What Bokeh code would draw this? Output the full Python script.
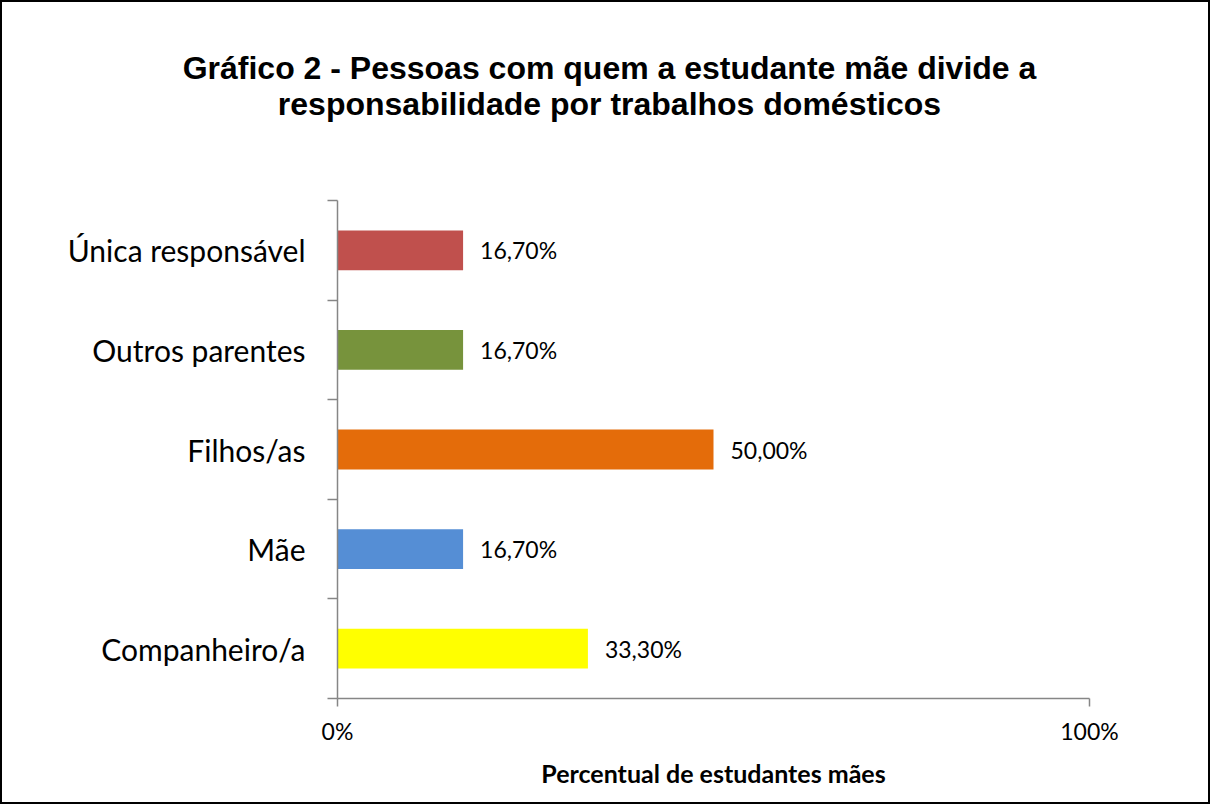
from bokeh.plotting import figure
from bokeh.models import Range1d, FixedTicker, Div
from bokeh.layouts import column
from bokeh.core.properties import value
from bokeh.embed import file_html
from bokeh.resources import INLINE

categories = ["Companheiro/a", "Mãe", "Filhos/as", "Outros parentes", "Única responsável"]
values = [33.3, 16.7, 50.0, 16.7, 16.7]
value_labels = ["33,30%", "16,70%", "50,00%", "16,70%", "16,70%"]
colors = ["#FFFF00", "#558ED5", "#E46C0A", "#77933C", "#C0504D"]
x_ticks = [0, 100]
x_tick_labels = ["0%", "100%"]
title_lines = ["Gráfico 2 - Pessoas com quem a estudante mãe divide a",
               "responsabilidade por trabalhos domésticos"]
x_title = "Percentual de estudantes mães"

FONT = "Lato"
AXIS_COLOR = "#868686"
TITLE_H = 130

ypos = [i + 0.5 for i in range(len(categories))]

p = figure(frame_width=752, frame_height=498,
           min_border_left=335, min_border_right=119,
           min_border_top=198 - TITLE_H, min_border_bottom=104,
           x_range=Range1d(0, 100), y_range=Range1d(0, len(categories)),
           output_backend="svg", toolbar_location=None, tools="")
p.outline_line_color = None
p.background_fill_color = "white"
p.border_fill_color = "white"

p.hbar(y=ypos, right=values, left=0, height=0.4, fill_color=colors, line_color=None)
p.text(x=values, y=ypos, text=value_labels, x_offset=17, text_baseline="middle",
       text_align="left", text_font=value(FONT), text_font_size="23px", text_color="black")

# y axis
ya = p.yaxis[0]
ya.ticker = FixedTicker(ticks=ypos, minor_ticks=list(range(len(categories) + 1)))
ya.major_label_overrides = {y: c for y, c in zip(ypos, categories)}
ya.major_tick_out = 0
ya.major_tick_in = 0
ya.minor_tick_out = 10
ya.minor_tick_in = 0
ya.minor_tick_line_color = AXIS_COLOR
ya.axis_line_color = AXIS_COLOR
ya.axis_line_width = 1.5
ya.minor_tick_line_width = 1.5
ya.major_label_standoff = 22
ya.major_label_text_font = FONT
ya.major_label_text_font_size = "30px"
ya.major_label_text_color = "black"

# x axis
xa = p.xaxis[0]
xa.ticker = FixedTicker(ticks=x_ticks, minor_ticks=[])
xa.major_label_overrides = {t: l for t, l in zip(x_ticks, x_tick_labels)}
xa.major_tick_out = 8
xa.major_tick_in = 0
xa.major_tick_line_color = AXIS_COLOR
xa.major_tick_line_width = 1.5
xa.axis_line_color = AXIS_COLOR
xa.axis_line_width = 1.5
xa.major_label_standoff = 10
xa.major_label_text_font = FONT
xa.major_label_text_font_size = "23px"
xa.major_label_text_color = "black"
xa.axis_label = x_title
xa.axis_label_text_font = FONT
xa.axis_label_text_font_style = "bold"
xa.axis_label_text_font_size = "25px"
xa.axis_label_text_color = "black"
xa.axis_label_standoff = 10

p.ygrid.visible = False
p.xgrid.ticker = FixedTicker(ticks=[100])
p.xgrid.grid_line_color = AXIS_COLOR
p.xgrid.grid_line_width = 1.5

title_html = (
    '<div style="width:1206px; box-sizing:border-box; padding-top:48px; padding-left:9px; '
    'text-align:center; font-family:\'Liberation Sans\', Arial, sans-serif; font-weight:bold; '
    'font-size:32px; line-height:36px; color:black;">'
    + "<br>".join(title_lines) + "</div>"
)
title_div = Div(text=title_html, width=1206, height=TITLE_H, margin=0,
                styles={"background-color": "white"})

layout = column(title_div, p, spacing=0,
                styles={"border": "2px solid black", "background-color": "white"})

open("out.html", "w").write(file_html(layout, INLINE))
